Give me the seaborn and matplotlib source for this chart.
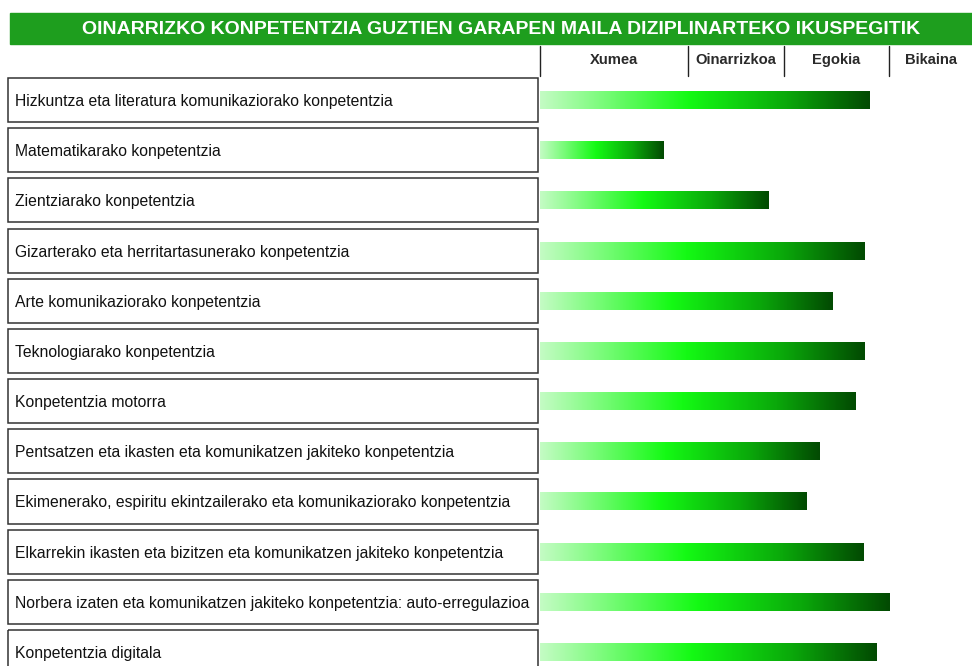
import numpy as np
import pandas as pd
import matplotlib
matplotlib.use('Agg')
import matplotlib.pyplot as plt
import matplotlib.transforms as mtransforms
from matplotlib.colors import LinearSegmentedColormap
from matplotlib.patches import Rectangle
import seaborn as sns

# Data (score on a 0-100 scale across the level columns)
competences = [
    'Hizkuntza eta literatura komunikaziorako konpetentzia',
    'Matematikarako konpetentzia',
    'Zientziarako konpetentzia',
    'Gizarterako eta herritartasunerako konpetentzia',
    'Arte komunikaziorako konpetentzia',
    'Teknologiarako konpetentzia',
    'Konpetentzia motorra',
    'Pentsatzen eta ikasten eta komunikatzen jakiteko konpetentzia',
    'Ekimenerako, espiritu ekintzailerako eta komunikaziorako konpetentzia',
    'Elkarrekin ikasten eta bizitzen eta komunikatzen jakiteko konpetentzia',
    'Norbera izaten eta komunikatzen jakiteko konpetentzia: auto-erregulazioa',
    'Konpetentzia digitala',
]
scores = [76.2, 28.5, 53.0, 75.2, 67.8, 75.2, 73.1, 64.6, 61.8, 75.0, 80.8, 77.8]
levels = ['Xumea', 'Oinarrizkoa', 'Egokia', 'Bikaina']
level_edges = [0, 34.3, 56.5, 80.8, 100]
title = 'OINARRIZKO KONPETENTZIA GUZTIEN GARAPEN MAILA DIZIPLINARTEKO IKUSPEGITIK'

sns.set_style('white')
plt.rcParams['font.family'] = ['Liberation Sans', 'DejaVu Sans']

W, H = 972, 666
fig = plt.figure(figsize=(W / 100, H / 100), dpi=100)

# bars area
ax = fig.add_axes([540 / W, 0, 432 / W, (H - 75) / H])
df = pd.DataFrame({'competence': competences, 'score': scores})
sns.barplot(data=df, x='score', y='competence', orient='h', width=18 / 50.2,
            color='white', ax=ax)

green = LinearSegmentedColormap.from_list(
    'grn', [(0, '#c4fcc4'), (0.45, '#14fa14'), (0.75, '#0aa80a'), (1, '#024a02')])
grad = np.linspace(0, 1, 256).reshape(1, -1)
for p in ax.patches:
    x, y, w, h = p.get_x(), p.get_y(), p.get_width(), p.get_height()
    ax.imshow(grad, extent=[x, x + w, y + h, y], aspect='auto', cmap=green, zorder=2)
    p.set_visible(False)

ax.set_xlim(0, 100)
ax.set_ylim(11.28, -0.5)
ax.axis('off')

# label boxes on the left
trans = mtransforms.blended_transform_factory(fig.transFigure, ax.transData)
for i, name in enumerate(competences):
    ax.add_patch(Rectangle((8 / W, i - 0.44), 530 / W, 0.88, transform=trans,
                           fill=False, edgecolor='#333333', lw=1.1, clip_on=False))
    ax.text(15 / W, i + 0.03, name, transform=trans, va='center', ha='left',
            fontsize=11.3, color='#111111', clip_on=False)

# header row with level names
htrans = mtransforms.blended_transform_factory(ax.transData, fig.transFigure)
for e in level_edges[:-1]:
    ax.plot([e, e], [(H - 46) / H, (H - 76) / H], transform=htrans, color='#222222',
            lw=1, clip_on=False)
for lv, a, b in zip(levels, level_edges[:-1], level_edges[1:]):
    ax.text((a + b) / 2, (H - 64) / H, lv, transform=htrans, ha='center', va='baseline',
            fontsize=10.6, fontweight='bold', color='#2a2a2a', clip_on=False)

# green title banner
fig.patches.append(Rectangle((10 / W, (H - 44) / H), 962 / W, 31 / H,
                             transform=fig.transFigure, color='#1e9e1e'))
fig.text(501 / W, (H - 29) / H, title, ha='center', va='center', color='white',
         fontsize=14, fontweight='bold',
         family=['Liberation Sans Narrow', 'Liberation Sans', 'DejaVu Sans'])

fig.savefig('out.png', dpi=100)
